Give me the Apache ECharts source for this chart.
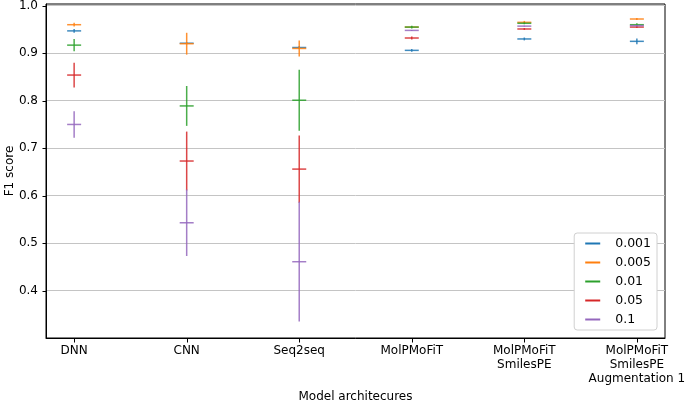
<!DOCTYPE html>
<html>
<head>
<meta charset="utf-8">
<script src="https://cdn.jsdelivr.net/npm/echarts@6/dist/echarts.min.js"></script>
<style>
  html, body { margin: 0; padding: 0; background: #fff; }
  #chart { width: 685px; height: 401px; }
</style>
</head>
<body>
<div id="chart"></div>
<script>
const categories = [
  'DNN',
  'CNN',
  'Seq2seq',
  'MolPMoFiT',
  'MolPMoFiT\nSmilesPE',
  'MolPMoFiT\nSmilesPE\nAugmentation 1',
];
const seriesNames = ['0.001', '0.005', '0.01', '0.05', '0.1'];

// mean F1 score per model, one array per learning rate
const f1_0001 = [0.947, 0.921, 0.912, 0.906, 0.930, 0.925];
const f1_0005 = [0.960, 0.920, 0.910, 0.955, 0.965, 0.972];
const f1_001 = [0.917, 0.789, 0.801, 0.955, 0.963, 0.960];
const f1_005 = [0.854, 0.673, 0.656, 0.932, 0.951, 0.955];
const f1_01 = [0.750, 0.543, 0.461, 0.948, 0.957, 0.958];

// error bar half-lengths
const err_0001 = [0.004, 0.002, 0.003, 0.003, 0.003, 0.006];
const err_0005 = [0.004, 0.023, 0.017, 0.002, 0.003, 0.002];
const err_001 = [0.013, 0.042, 0.064, 0.003, 0.002, 0.003];
const err_005 = [0.026, 0.062, 0.071, 0.003, 0.002, 0.002];
const err_01 = [0.028, 0.070, 0.126, 0.001, 0.001, 0.001];

const yTicks = [0.4, 0.5, 0.6, 0.7, 0.8, 0.9, 1.0];
const xTicks = categories.map((c, i) => i);

const X_MIN = -0.25, X_MAX = 5.25;
const Y_MIN = 0.3004, Y_MAX = 1.0036;

const means = [f1_0001, f1_0005, f1_001, f1_005, f1_01];
const errs = [err_0001, err_0005, err_001, err_005, err_01];
const colors = ['#1f77b4', '#ff7f0e', '#2ca02c', '#d62728', '#9467bd'];

const font = 'DejaVu Sans';

function renderErr(params, api) {
  const x = api.value(0);
  const v = api.value(1);
  const e = api.value(2);
  const c = api.coord([x, v]);
  const top = api.coord([x, v + e]);
  const bot = api.coord([x, v - e]);
  const color = api.visual('color');
  const style = { stroke: color, lineWidth: 1.5, opacity: 0.85 };
  return {
    type: 'group',
    children: [
      { type: 'line', shape: { x1: top[0], y1: top[1], x2: bot[0], y2: bot[1] }, style },
      { type: 'line', shape: { x1: c[0] - 7, y1: c[1], x2: c[0] + 7, y2: c[1] }, style },
    ],
  };
}

// outward tick marks (axis ticks with customValues don't show up here)
function renderTick(params, api) {
  const p = api.coord([api.value(0), api.value(1)]);
  const isY = api.value(2) === 1;
  const x1 = Math.round(p[0]) + 0.5, y1 = Math.round(p[1]) + 0.5;
  const shape = isY
    ? { x1: x1 - 4, y1: y1, x2: x1, y2: y1 }
    : { x1: x1, y1: y1, x2: x1, y2: y1 + 4 };
  return { type: 'line', shape, style: { stroke: '#000', lineWidth: 1 } };
}

const series = seriesNames.map((name, k) => ({
  name: name,
  type: 'custom',
  renderItem: renderErr,
  itemStyle: { color: colors[k] },
  encode: { x: 0, y: 1 },
  data: means[k].map((v, i) => [i, v, errs[k][i]]),
}));

series.push({
  type: 'custom',
  clip: false,
  silent: true,
  renderItem: renderTick,
  encode: { x: 0, y: 1 },
  data: xTicks.map((i) => [i, Y_MIN, 0]).concat(yTicks.map((v) => [X_MIN, v, 1])),
});

const option = {
  animation: false,
  backgroundColor: '#fff',
  color: colors,
  grid: {
    left: 46,
    right: 20,
    top: 4,
    bottom: 63,
    outerBoundsMode: 'none',
    containLabel: false,
    show: true,
    borderColor: '#000',
    borderWidth: 1,
  },
  legend: {
    orient: 'vertical',
    right: 28,
    bottom: 71,
    backgroundColor: '#fff',
    borderColor: '#d0d0d0',
    borderWidth: 1,
    borderRadius: 3,
    padding: [4, 6, 4, 11],
    itemGap: 6,
    itemWidth: 15,
    itemHeight: 2,
    icon: 'rect',
    textStyle: { fontFamily: font, fontSize: 12.5, color: '#000', padding: [0, 0, 0, 10] },
    data: seriesNames,
  },
  xAxis: {
    type: 'value',
    min: X_MIN,
    max: X_MAX,
    name: 'Model architecures',
    nameLocation: 'middle',
    nameGap: 51,
    nameTextStyle: { fontFamily: font, fontSize: 12, color: '#000' },
    axisLine: { show: true, onZero: false, lineStyle: { color: '#000', width: 1 } },
    axisTick: { show: false },
    axisLabel: {
      customValues: xTicks,
      margin: 6,
      fontFamily: font,
      fontSize: 12,
      lineHeight: 14,
      color: '#000',
      formatter: (v) => categories[Math.round(v)],
    },
    splitLine: { show: false },
  },
  yAxis: {
    type: 'value',
    min: Y_MIN,
    max: Y_MAX,
    name: 'F1 score',
    nameLocation: 'middle',
    nameGap: 30,
    nameMoveOverlap: false,
    nameTextStyle: { fontFamily: font, fontSize: 12, color: '#000' },
    axisLine: { show: true, onZero: false, lineStyle: { color: '#000', width: 1 } },
    axisTick: { show: false, customValues: yTicks },
    axisLabel: {
      customValues: yTicks,
      margin: 8,
      fontFamily: font,
      fontSize: 12,
      color: '#000',
      formatter: (v) => v.toFixed(1),
    },
    splitLine: { show: true, lineStyle: { color: '#c4c4c4', width: 1 } },
  },
  series: series,
};

const chart = echarts.init(document.getElementById('chart'), null, { renderer: 'canvas' });
chart.setOption(option);
</script>
</body>
</html>
